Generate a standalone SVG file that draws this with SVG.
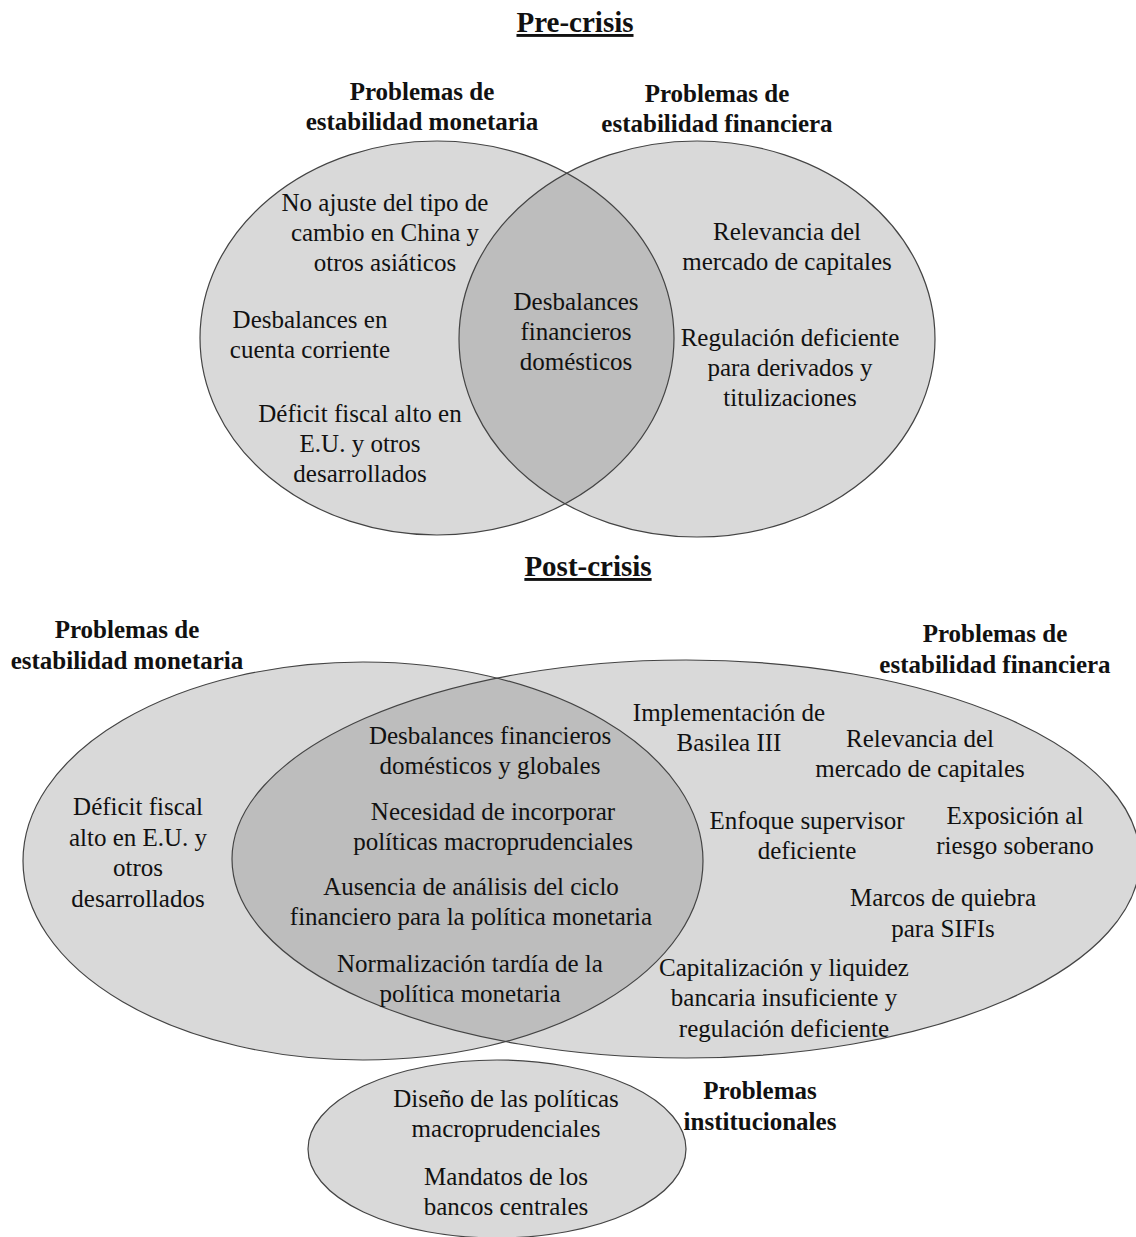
<svg xmlns="http://www.w3.org/2000/svg" width="1136" height="1237" viewBox="0 0 1136 1237">
<style>
.t{font-family:'Liberation Serif',Tinos,'DejaVu Serif',serif;font-size:25px;fill:#111;text-anchor:middle}
.h{font-family:'Liberation Serif',Tinos,'DejaVu Serif',serif;font-size:25px;font-weight:bold;fill:#111;text-anchor:middle}
.ti{font-family:'Liberation Serif',Tinos,'DejaVu Serif',serif;font-size:29px;font-weight:bold;fill:#111;text-anchor:middle;text-decoration:underline}
.e{fill:#d9d9d9;stroke:none}
.s{fill:none;stroke:#444;stroke-width:1.2}
.o{fill:#bdbdbd;stroke:none}
</style>
<defs>
<clipPath id="cA"><ellipse cx="437" cy="338" rx="237" ry="197"/></clipPath>
<clipPath id="cB"><ellipse cx="363" cy="861" rx="340" ry="199"/></clipPath>
</defs>
<rect width="1136" height="1237" fill="#fff"/>
<text class="ti" x="575" y="32">Pre-crisis</text>
<g id="pre-monetaria">
<ellipse class="e" cx="437" cy="338" rx="237" ry="197"/>
</g>
<g id="pre-financiera">
<ellipse class="e" cx="697" cy="339" rx="238" ry="198"/>
</g>
<g id="pre-overlap">
<ellipse class="o" cx="697" cy="339" rx="238" ry="198" clip-path="url(#cA)"/>
<ellipse class="s" cx="437" cy="338" rx="237" ry="197"/>
<ellipse class="s" cx="697" cy="339" rx="238" ry="198"/>
</g>
<g id="pre-labels">
<text class="h" x="422" y="100">Problemas de</text>
<text class="h" x="422" y="130">estabilidad monetaria</text>
<text class="h" x="717" y="102">Problemas de</text>
<text class="h" x="717" y="132">estabilidad financiera</text>
<text class="t" x="385" y="211">No ajuste del tipo de</text>
<text class="t" x="385" y="241">cambio en China y</text>
<text class="t" x="385" y="271">otros asiáticos</text>
<text class="t" x="310" y="328">Desbalances en</text>
<text class="t" x="310" y="358">cuenta corriente</text>
<text class="t" x="360" y="422">Déficit fiscal alto en</text>
<text class="t" x="360" y="452">E.U. y otros</text>
<text class="t" x="360" y="482">desarrollados</text>
<text class="t" x="576" y="310">Desbalances</text>
<text class="t" x="576" y="340">financieros</text>
<text class="t" x="576" y="370">domésticos</text>
<text class="t" x="787" y="240">Relevancia del</text>
<text class="t" x="787" y="270">mercado de capitales</text>
<text class="t" x="790" y="346">Regulación deficiente</text>
<text class="t" x="790" y="376">para derivados y</text>
<text class="t" x="790" y="406">titulizaciones</text>
</g>
<text class="ti" x="588" y="576">Post-crisis</text>
<g id="post-monetaria">
<ellipse class="e" cx="363" cy="861" rx="340" ry="199"/>
</g>
<g id="post-financiera">
<ellipse class="e" cx="686" cy="859" rx="454" ry="199"/>
</g>
<g id="post-overlap">
<ellipse class="o" cx="686" cy="859" rx="454" ry="199" clip-path="url(#cB)"/>
<ellipse class="s" cx="363" cy="861" rx="340" ry="199"/>
<ellipse class="s" cx="686" cy="859" rx="454" ry="199"/>
</g>
<g id="post-institucional">
<ellipse class="e" cx="497" cy="1149" rx="189" ry="89"/>
<ellipse class="s" cx="497" cy="1149" rx="189" ry="89"/>
</g>
<g id="post-labels">
<text class="h" x="127" y="638">Problemas de</text>
<text class="h" x="127" y="669">estabilidad monetaria</text>
<text class="h" x="995" y="642">Problemas de</text>
<text class="h" x="995" y="673">estabilidad financiera</text>
<text class="t" x="490" y="744">Desbalances financieros</text>
<text class="t" x="490" y="774">domésticos y globales</text>
<text class="t" x="493" y="820">Necesidad de incorporar</text>
<text class="t" x="493" y="850">políticas macroprudenciales</text>
<text class="t" x="471" y="895">Ausencia de análisis del ciclo</text>
<text class="t" x="471" y="925">financiero para la política monetaria</text>
<text class="t" x="470" y="972">Normalización tardía de la</text>
<text class="t" x="470" y="1002">política monetaria</text>
<text class="t" x="138" y="815">Déficit fiscal</text>
<text class="t" x="138" y="846">alto en E.U. y</text>
<text class="t" x="138" y="876">otros</text>
<text class="t" x="138" y="907">desarrollados</text>
<text class="t" x="729" y="721">Implementación de</text>
<text class="t" x="729" y="751">Basilea III</text>
<text class="t" x="920" y="747">Relevancia del</text>
<text class="t" x="920" y="777">mercado de capitales</text>
<text class="t" x="807" y="829">Enfoque supervisor</text>
<text class="t" x="807" y="859">deficiente</text>
<text class="t" x="1015" y="824">Exposición al</text>
<text class="t" x="1015" y="854">riesgo soberano</text>
<text class="t" x="943" y="906">Marcos de quiebra</text>
<text class="t" x="943" y="937">para SIFIs</text>
<text class="t" x="784" y="976">Capitalización y liquidez</text>
<text class="t" x="784" y="1006">bancaria insuficiente y</text>
<text class="t" x="784" y="1037">regulación deficiente</text>
<text class="t" x="506" y="1107">Diseño de las políticas</text>
<text class="t" x="506" y="1137">macroprudenciales</text>
<text class="t" x="506" y="1185">Mandatos de los</text>
<text class="t" x="506" y="1215">bancos centrales</text>
<text class="h" x="760" y="1099">Problemas</text>
<text class="h" x="760" y="1130">institucionales</text>
</g>
</svg>
